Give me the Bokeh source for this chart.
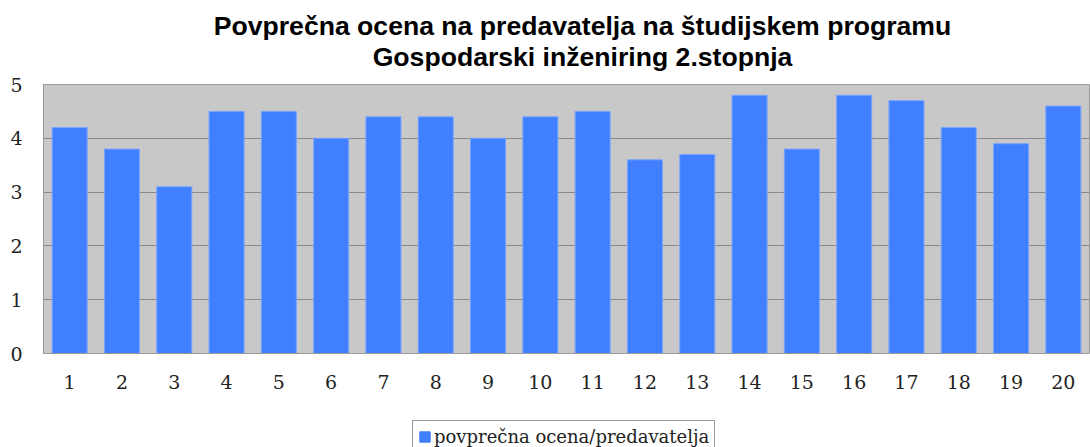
from bokeh.plotting import figure
from bokeh.layouts import column
from bokeh.models import Label, FactorRange, Range1d, FixedTicker, Legend, LegendItem
from bokeh.embed import file_html
from bokeh.resources import INLINE

categories = [str(i) for i in range(1, 21)]
values = [4.2, 3.8, 3.1, 4.5, 4.5, 4.0, 4.4, 4.4, 4.0, 4.4,
          4.5, 3.6, 3.7, 4.8, 3.8, 4.8, 4.7, 4.2, 3.9, 4.6]
y_ticks = [0, 1, 2, 3, 4, 5]
title_line1 = "Povprečna ocena na predavatelja na študijskem programu"
title_line2 = "Gospodarski inženiring 2.stopnja"
series_name = "povprečna ocena/predavatelja"

BAR_FILL = "#4080FF"
BAR_LINE = "#78A4FF"


def strip(height):
    f = figure(width=1090, height=height, output_backend="svg", toolbar_location=None,
               x_range=Range1d(0, 1), y_range=Range1d(0, 1),
               x_axis_location=None, y_axis_location=None,
               min_border_left=0, min_border_right=0, min_border_top=0, min_border_bottom=0)
    f.xgrid.grid_line_color = None
    f.ygrid.grid_line_color = None
    f.outline_line_color = None
    f.background_fill_color = "white"
    f.border_fill_color = "white"
    return f


# Title strip
t = strip(75)
for txt, yy in ((title_line1, 50), (title_line2, 19)):
    t.add_layout(Label(x=539, y=yy, x_units="screen", y_units="screen", text=txt,
                       text_align="center", text_baseline="alphabetic",
                       text_font="Liberation Sans", text_font_size="26.6px",
                       text_font_style="bold", text_color="black"))

# Main chart
p = figure(width=1090, height=325, output_backend="svg", toolbar_location=None,
           x_range=FactorRange(*categories, range_padding=0),
           y_range=Range1d(0, 5),
           min_border_left=43, min_border_right=1, min_border_top=9, min_border_bottom=47)

bars = p.vbar(x=categories, top=values, width=0.67, fill_color=BAR_FILL,
              line_color=BAR_LINE, line_width=1)

p.background_fill_color = "#C8C8C8"
p.border_fill_color = "white"
p.outline_line_color = "#9A9A9A"
p.xgrid.grid_line_color = None
p.ygrid.grid_line_color = "#8A8A8A"
p.ygrid.grid_line_width = 1

for ax in (p.xaxis[0], p.yaxis[0]):
    ax.major_tick_out = 0
    ax.major_tick_in = 0
    ax.minor_tick_out = 0
    ax.minor_tick_in = 0
    ax.axis_line_color = "#9A9A9A"
    ax.major_label_text_font = "DejaVu Serif"
    ax.major_label_text_font_size = "19px"
    ax.major_label_text_color = "#222222"

p.yaxis.ticker = FixedTicker(ticks=y_ticks)
p.yaxis.major_label_standoff = 21
p.xaxis.major_label_standoff = 21

# Legend strip below the chart
q = strip(47)
proxy = q.vbar(x=[-1], top=[0], width=0, fill_color=BAR_FILL, line_color=BAR_FILL, line_width=1)

lg = Legend(items=[LegendItem(label=series_name, renderers=[proxy])],
            location=(369, -6), orientation="horizontal",
            padding=5, margin=0, spacing=0,
            glyph_width=13, glyph_height=13, label_standoff=3, label_height=20,
            label_text_font="DejaVu Serif", label_text_font_size="18px",
            label_text_color="#222222",
            border_line_color="#333333", border_line_width=1,
            background_fill_color="white", background_fill_alpha=1)
q.add_layout(lg, "center")

layout = column(t, p, q, spacing=0)
open("out.html", "w").write(file_html(layout, INLINE))
